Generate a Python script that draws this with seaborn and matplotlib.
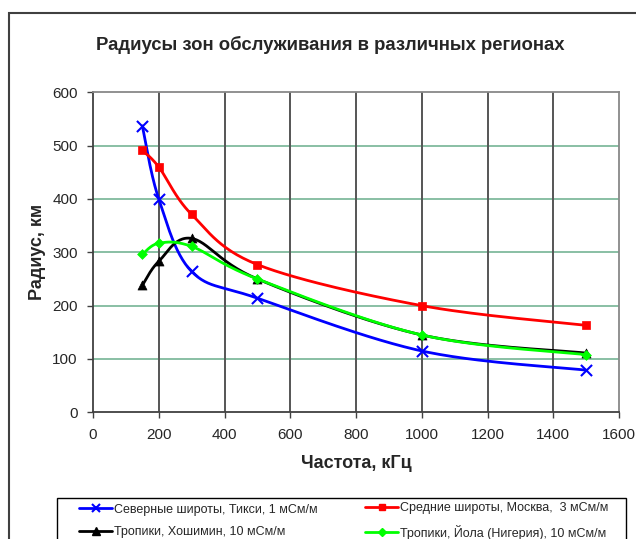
import numpy as np
import pandas as pd
import matplotlib
matplotlib.use("Agg")
import matplotlib.pyplot as plt
from matplotlib.lines import Line2D
from matplotlib.patches import Rectangle
import seaborn as sns

# Frequencies, kHz
freq = [150, 200, 300, 500, 1000, 1500]

# Service-area radius, km
tiksi = [537, 400, 264, 214, 115, 79]
moscow = [491, 460, 371, 277, 200, 163]
hochiminh = [238, 283, 326, 250, 145, 111]
yola = [296, 317, 311, 250, 145, 108]

labels = [
    "Северные широты, Тикси, 1 мСм/м",
    "Средние широты, Москва,  3 мСм/м",
    "Тропики, Хошимин, 10 мСм/м",
    "Тропики, Йола (Нигерия), 10 мСм/м",
]

sns.set_style("white")
plt.rcParams["font.family"] = ["Liberation Sans", "DejaVu Sans"]

W, H, DPI = 636, 539, 100
fig = plt.figure(figsize=(W / DPI, H / DPI), dpi=DPI)

left, right, top, bottom = 93, 619, 92.3, 412.3
ax = fig.add_axes([left / W, 1 - bottom / H, (right - left) / W, (bottom - top) / H])

XMAX, YMAX = 1600, 600
sx = (right - left) / XMAX
sy = (bottom - top) / YMAX


def smooth(xs, ys, n=30):
    """Catmull-Rom style Bezier smoothing computed in screen proportions."""
    px = np.asarray(xs, float) * sx
    py = np.asarray(ys, float) * sy
    P = np.column_stack([px, py])
    P = np.vstack([P[0], P, P[-1]])
    out = []
    t = np.linspace(0, 1, n)[:, None]
    for i in range(1, len(P) - 2):
        p0, p1, p2, p3 = P[i - 1], P[i], P[i + 1], P[i + 2]
        c1 = p1 + (p2 - p0) / 6
        c2 = p2 - (p3 - p1) / 6
        seg = ((1 - t) ** 3) * p1 + 3 * ((1 - t) ** 2) * t * c1 + 3 * (1 - t) * t ** 2 * c2 + t ** 3 * p2
        out.append(seg if i == 1 else seg[1:])
    out = np.vstack(out)
    return out[:, 0] / sx, out[:, 1] / sy


series = [
    (tiksi, "#0000FF", "x", 8, 1.5),
    (moscow, "#FF0000", "s", 6, 1.0),
    (hochiminh, "#000000", "^", 6.5, 1.0),
    (yola, "#00FF00", "D", 5, 1.0),
]

# Grid
for yv in range(100, 600, 100):
    ax.axhline(yv, color="#6aae8c", lw=1.1, zorder=0)
for xv in range(200, 1600, 200):
    ax.axvline(xv, color="#555555", lw=1.4, zorder=0)

handles = []
for (vals, col, mk, ms, mew), lab in zip(series, labels):
    cx, cy = smooth(freq, vals)
    curve = pd.DataFrame({"x": cx, "y": cy})
    sns.lineplot(data=curve, x="x", y="y", sort=False, estimator=None,
                 color=col, lw=2, ax=ax, zorder=3)
    pts = pd.DataFrame({"x": freq, "y": vals})
    if mk == "x":
        sns.scatterplot(data=pts, x="x", y="y", marker="x", s=ms ** 2,
                        color=col, linewidth=mew, ax=ax, zorder=4)
    else:
        sns.scatterplot(data=pts, x="x", y="y", marker=mk, s=ms ** 2,
                        color=col, edgecolor=col, linewidth=0.5, ax=ax, zorder=4)
    handles.append(Line2D([0], [0], color=col, lw=2, marker=mk, markersize=ms * 0.8,
                          markeredgewidth=mew, markerfacecolor=col, markeredgecolor=col))

ax.set_xlim(0, XMAX)
ax.set_ylim(0, YMAX)
ax.set_xticks(range(0, 1601, 200))
ax.set_yticks(range(0, 601, 100))
ax.tick_params(axis="both", which="both", direction="out", length=4, width=1,
               color="#404040", labelsize=11, pad=7, bottom=True, left=True)
ax.set_xlabel("Частота, кГц", fontsize=13, fontweight="bold", va="center")
ax.set_ylabel("Радиус, км", fontsize=13, fontweight="bold", va="center")
ax.xaxis.set_label_coords(0.5, -(464 - bottom) / (bottom - top))
ax.yaxis.set_label_coords((37 - left) / (right - left), 0.5)

for side in ("left", "bottom"):
    ax.spines[side].set_color("#404040")
    ax.spines[side].set_linewidth(1.3)
for side in ("top", "right"):
    ax.spines[side].set_color("#888888")
    ax.spines[side].set_linewidth(1.3)

fig.text(330 / W, 1 - 45 / H, "Радиусы зон обслуживания в различных регионах",
         ha="center", va="center", fontsize=13.3, fontweight="bold")

# Outer chart border
fig.patches.append(Rectangle((9 / W, -0.05), 1.1, 1 - 13 / H + 0.05,
                             transform=fig.transFigure, fill=False,
                             edgecolor="#404040", lw=1.5, zorder=0))

# Legend frame and its two columns
fig.patches.append(Rectangle((57 / W, -0.05), (626 - 57) / W, 1 - 498 / H + 0.05,
                             transform=fig.transFigure, fill=False,
                             edgecolor="#000000", lw=1.0, zorder=1))
leg_kw = dict(loc="center left", fontsize=9, frameon=False, handlelength=2.65,
              handletextpad=0.15, borderpad=0, borderaxespad=0, labelspacing=0.85)
leg1 = fig.legend([handles[0], handles[2]], [labels[0], labels[2]],
                  bbox_to_anchor=(79 / W, 1 - 521 / H), **leg_kw)
leg2 = fig.legend([handles[1], handles[3]], [labels[1], labels[3]],
                  bbox_to_anchor=(365 / W, 1 - 521 / H), **leg_kw)

fig.savefig("out.png", dpi=DPI, facecolor="white")
